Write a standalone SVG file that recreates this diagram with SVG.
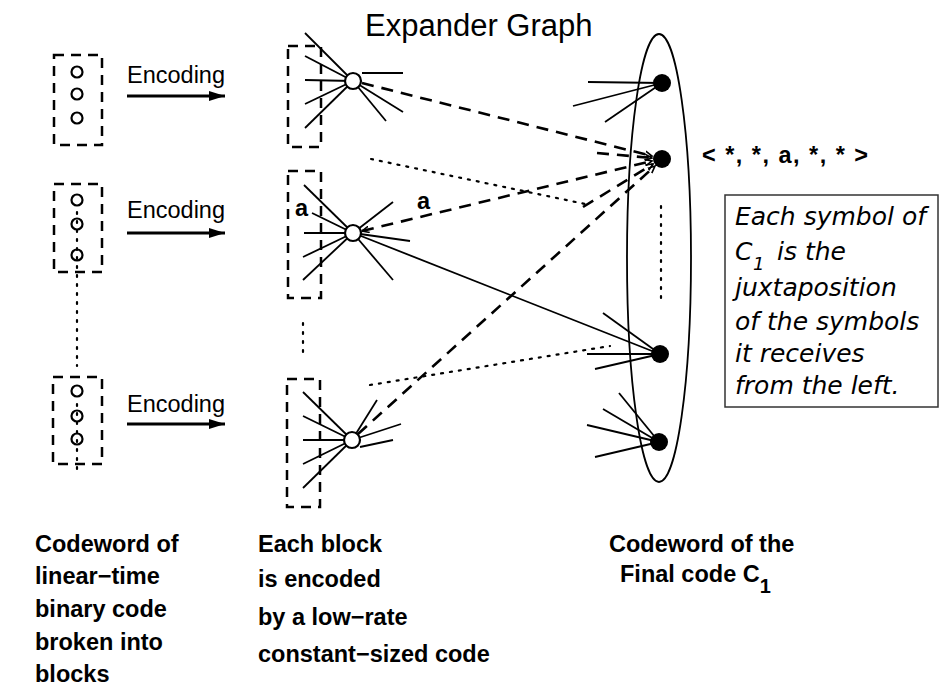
<svg xmlns="http://www.w3.org/2000/svg" width="944" height="688" viewBox="0 0 944 688">
<defs>
<style>
.blk{fill:none;stroke:#000;stroke-width:2.5;stroke-dasharray:10 7}
.sc{fill:none;stroke:#000;stroke-width:2.2}
.st{stroke:#000;stroke-width:1.8;fill:none}
.dsh{stroke:#000;stroke-width:2.6;stroke-dasharray:12 8;fill:none}
.dot{stroke:#000;stroke-width:2.2;stroke-dasharray:2 7;stroke-linecap:round;fill:none}
.node{fill:#fff;stroke:#000;stroke-width:2.2}
.fd{fill:#000}
.enc{font-family:"Liberation Sans",Arial,sans-serif;font-size:23.5px}
.bl{font-family:"Liberation Sans",Arial,sans-serif;font-size:23.5px;font-weight:bold}
.it{font-family:"DejaVu Sans",sans-serif;font-size:25px;font-style:italic}
.sub1{font-size:18px}
.sub2{font-size:20px}
</style>
<marker id="sa" viewBox="0 0 10 10" refX="9" refY="5" markerWidth="8" markerHeight="8" orient="auto-start-reverse" markerUnits="userSpaceOnUse">
<path d="M0,1 L9,5 L0,9" fill="none" stroke="#000" stroke-width="2"/>
</marker>
<marker id="enc" viewBox="0 0 16 10" refX="16" refY="5" markerWidth="16" markerHeight="10" orient="auto" markerUnits="userSpaceOnUse">
<path d="M0,0 L16,5 L0,10 z" fill="#000"/>
</marker>
</defs>
<rect width="944" height="688" fill="#fff"/>

<text x="365" y="36" font-family="Liberation Sans,Arial,sans-serif" font-size="31">Expander Graph</text>

<g id="left-block-1">
<rect class="blk" x="54" y="55" width="48" height="90"/>
<circle class="sc" cx="77" cy="72" r="5.5"/>
<circle class="sc" cx="77" cy="94" r="5.5"/>
<circle class="sc" cx="77" cy="118" r="5.5"/>
<text class="enc" x="127" y="83">Encoding</text>
<line x1="127" y1="96" x2="225" y2="96" stroke="#000" stroke-width="3" marker-end="url(#enc)"/>
</g>

<g id="left-block-2">
<rect class="blk" x="54" y="184" width="48" height="88"/>
<circle class="sc" cx="77" cy="200" r="5.5"/>
<circle class="sc" cx="77" cy="224" r="5.5"/>
<circle class="sc" cx="77" cy="255" r="5.5"/>
<text class="enc" x="127" y="218">Encoding</text>
<line x1="127" y1="233" x2="225" y2="233" stroke="#000" stroke-width="3" marker-end="url(#enc)"/>
</g>

<g id="left-block-3">
<rect class="blk" x="53" y="377" width="49" height="87"/>
<circle class="sc" cx="77" cy="391" r="5.5"/>
<circle class="sc" cx="77" cy="416" r="5.5"/>
<circle class="sc" cx="77" cy="439" r="5.5"/>
<text class="enc" x="127" y="412">Encoding</text>
<line x1="127" y1="424" x2="225" y2="424" stroke="#000" stroke-width="3" marker-end="url(#enc)"/>
</g>

<g id="left-dots">
<line class="dot" x1="77" y1="212" x2="77" y2="366"/>
<line class="dot" x1="77" y1="404" x2="77" y2="472"/>
</g>

<g id="mid-block-1">
<rect class="blk" x="288" y="46" width="33" height="101"/>
<line class="st" x1="305" y1="33" x2="353" y2="81"/>
<line class="st" x1="305" y1="56" x2="353" y2="81"/>
<line class="st" x1="305" y1="80" x2="353" y2="81"/>
<line class="st" x1="305" y1="104" x2="353" y2="81"/>
<line class="st" x1="305" y1="128" x2="353" y2="81"/>
<line class="st" x1="362" y1="73" x2="403" y2="73"/>
<line class="st" x1="353" y1="81" x2="403" y2="112"/>
<line class="st" x1="353" y1="81" x2="386" y2="121"/>
<circle class="node" cx="353" cy="81" r="8"/>
</g>

<g id="mid-block-2">
<rect class="blk" x="288" y="171" width="33" height="127"/>
<text class="bl" x="295" y="216" font-size="26">a</text>
<line class="st" x1="304" y1="185" x2="353" y2="233"/>
<line class="st" x1="312" y1="213" x2="353" y2="233"/>
<line class="st" x1="304" y1="233" x2="353" y2="233"/>
<line class="st" x1="303" y1="257" x2="353" y2="233"/>
<line class="st" x1="303" y1="280" x2="353" y2="233"/>
<line class="st" x1="353" y1="233" x2="393" y2="202"/>
<line class="st" x1="353" y1="233" x2="410" y2="241"/>
<line class="st" x1="353" y1="233" x2="393" y2="280"/>
<circle class="node" cx="353" cy="233" r="8"/>
</g>

<g id="mid-block-3">
<rect class="blk" x="287" y="379" width="33" height="128"/>
<line class="st" x1="303" y1="392" x2="352" y2="440"/>
<line class="st" x1="303" y1="416" x2="352" y2="440"/>
<line class="st" x1="303" y1="440" x2="352" y2="440"/>
<line class="st" x1="303" y1="464" x2="352" y2="440"/>
<line class="st" x1="303" y1="488" x2="352" y2="440"/>
<line class="st" x1="352" y1="440" x2="377" y2="400"/>
<line class="st" x1="352" y1="440" x2="401" y2="424"/>
<line class="st" x1="360" y1="447" x2="393" y2="440"/>
<circle class="node" cx="352" cy="440" r="8"/>
</g>

<line class="dot" x1="303" y1="323" x2="303" y2="358"/>

<g id="final-code">
<ellipse cx="659" cy="258" rx="32" ry="224" fill="none" stroke="#000" stroke-width="1.8"/>
<line class="st" x1="588" y1="82" x2="662" y2="83"/>
<line class="st" x1="573" y1="106" x2="662" y2="83"/>
<line class="st" x1="605" y1="122" x2="662" y2="83"/>
<circle class="fd" cx="662" cy="83" r="9"/>
<line class="st" x1="603" y1="313" x2="660" y2="354"/>
<line class="st" x1="587" y1="354" x2="660" y2="354"/>
<line class="st" x1="595" y1="369" x2="660" y2="354"/>
<circle class="fd" cx="660" cy="354" r="9"/>
<line class="st" x1="619" y1="393" x2="659" y2="442"/>
<line class="st" x1="603" y1="409" x2="659" y2="442"/>
<line class="st" x1="587" y1="425" x2="659" y2="442"/>
<line class="st" x1="595" y1="457" x2="659" y2="442"/>
<circle class="fd" cx="659" cy="442" r="9"/>
<line class="dsh" x1="597" y1="153" x2="652" y2="158" marker-end="url(#sa)"/>
<line class="dsh" x1="583" y1="207" x2="653" y2="164" marker-end="url(#sa)"/>
<circle class="fd" cx="662" cy="159" r="9"/>
<line class="dot" x1="661" y1="206" x2="661" y2="303"/>
<text class="bl" x="702" y="163" font-size="25" textLength="166" lengthAdjust="spacing">&lt; *, *, a, *, * &gt;</text>
</g>

<g id="connectors">
<line class="dsh" x1="362" y1="83" x2="652" y2="156" marker-end="url(#sa)"/>
<line class="dsh" x1="362" y1="231" x2="652" y2="161" marker-start="url(#sa)" marker-end="url(#sa)"/>
<line class="dsh" x1="358" y1="434" x2="655" y2="166" marker-end="url(#sa)"/>
<line class="st" x1="361" y1="236" x2="652" y2="351"/>
<line class="dot" x1="371" y1="159" x2="590" y2="205"/>
<line class="dot" x1="370" y1="385" x2="610" y2="346"/>
<text class="bl" x="417" y="209" font-size="26">a</text>
</g>

<g id="note">
<rect x="725" y="195" width="213" height="212" fill="none" stroke="#333" stroke-width="1.5"/>
<text class="it" x="735" y="225">Each symbol of</text>
<text class="it" x="735" y="260">C<tspan class="sub1" x="753" dy="10">1</tspan><tspan x="777" dy="-10">is the</tspan></text>
<text class="it" x="735" y="296">juxtaposition</text>
<text class="it" x="735" y="330">of the symbols</text>
<text class="it" x="735" y="362">it receives</text>
<text class="it" x="735" y="394">from the left.</text>
</g>

<g id="captions">
<text class="bl" x="35" y="552">Codeword of</text>
<text class="bl" x="35" y="584">linear−time</text>
<text class="bl" x="35" y="617">binary code</text>
<text class="bl" x="35" y="650">broken into</text>
<text class="bl" x="35" y="682">blocks</text>
<text class="bl" x="258" y="552">Each block</text>
<text class="bl" x="258" y="587">is encoded</text>
<text class="bl" x="258" y="625">by a low−rate</text>
<text class="bl" x="258" y="662">constant−sized code</text>
<text class="bl" x="609" y="552">Codeword of the</text>
<text class="bl" x="620" y="582">Final code C<tspan class="sub2" dy="11">1</tspan></text>
</g>
</svg>
